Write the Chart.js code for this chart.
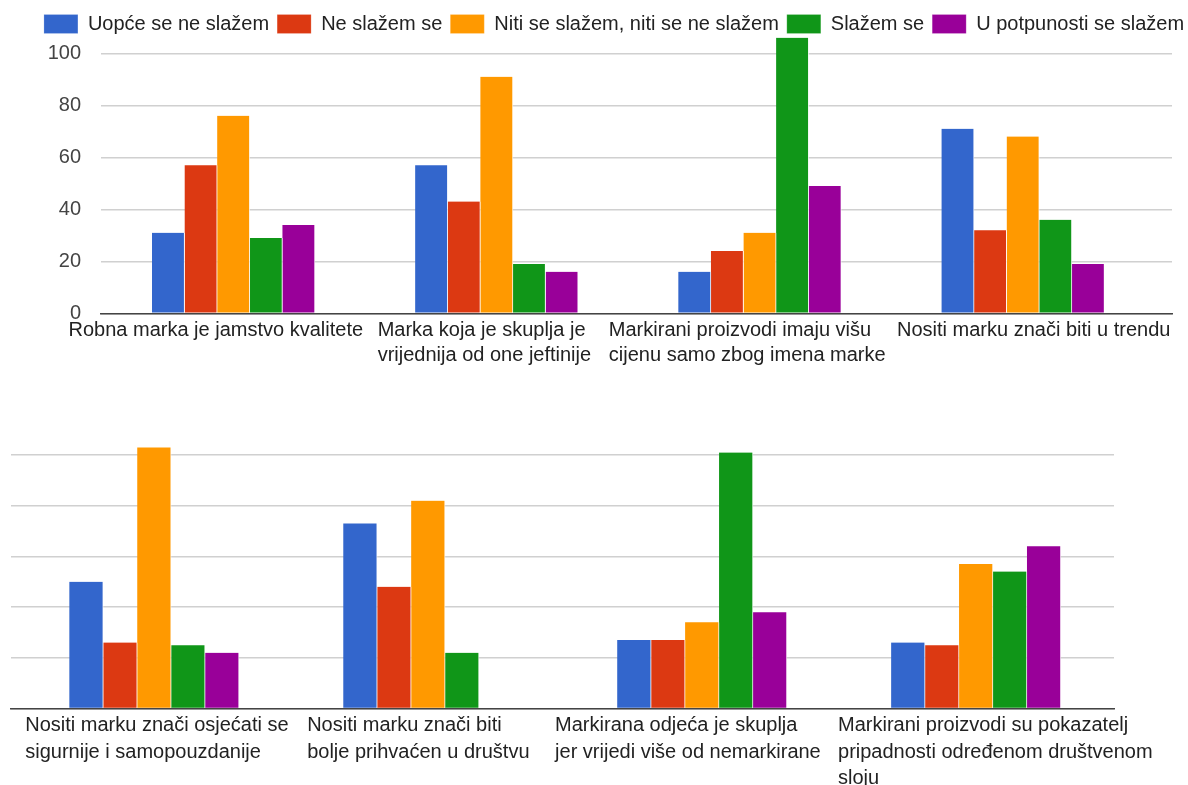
<!DOCTYPE html>
<html><head><meta charset="utf-8">
<script src="https://cdn.jsdelivr.net/npm/chart.js@4.4.1/dist/chart.umd.min.js"></script>
<style>
html,body{margin:0;padding:0;background:#fff;overflow:hidden;width:1188px;height:785px;}
#topChart{position:absolute;left:0;top:0;}
#botChart{position:absolute;left:0;top:390px;}
</style></head><body>
<canvas id="topChart" width="1240" height="390" style="width:1240px;height:390px"></canvas>
<canvas id="botChart" width="1188" height="395" style="width:1188px;height:395px"></canvas>
<script>
const seriesNames = ['Uopće se ne slažem', 'Ne slažem se', 'Niti se slažem, niti se ne slažem', 'Slažem se', 'U potpunosti se slažem'];
const seriesColors = ['#3366cc', '#dc3912', '#ff9900', '#109618', '#990099'];

const categoriesTop = [
  'Robna marka je jamstvo kvalitete',
  ['Marka koja je skuplja je', 'vrijednija od one jeftinije'],
  ['Markirani proizvodi imaju višu', 'cijenu samo zbog imena marke'],
  'Nositi marku znači biti u trendu'
];
const categoriesBottom = [
  ['Nositi marku znači osjećati se', 'sigurnije i samopouzdanije'],
  ['Nositi marku znači biti', 'bolje prihvaćen u društvu'],
  ['Markirana odjeća je skuplja', 'jer vrijedi više od nemarkirane'],
  ['Markirani proizvodi su pokazatelj', 'pripadnosti određenom društvenom', 'sloju']
];

const uopceTop   = [31, 57, 16, 71];
const neTop      = [57, 43, 24, 32];
const nitiTop    = [76, 91, 31, 68];
const slazemTop  = [29, 19, 106, 36];
const potpunoTop = [34, 16, 49, 19];

const uopceBottom   = [50, 73, 27, 26];
const neBottom      = [26, 48, 27, 25];
const nitiBottom    = [103, 82, 34, 57];
const slazemBottom  = [25, 22, 101, 54];
const potpunoBottom = [22, 0, 38, 64];

const yTickValues = [0, 20, 40, 60, 80, 100];

// layout: where each (left-aligned) category label starts, relative to its bar group centre, in px
const labelShiftTop = [-165, -119, -151, -126];
const labelShiftBottom = [-129, -121, -147, -138];

Chart.defaults.font.family = "'Liberation Sans', Arial, sans-serif";
Chart.defaults.animation = false;

function makeDatasets(seriesValues, thickness) {
  return seriesNames.map((name, i) => ({
    label: name,
    data: seriesValues[i].map((v, j) => ({ x: j, y: v })),
    backgroundColor: seriesColors[i],
    borderColor: 'rgba(255,255,255,0.75)',
    borderWidth: { left: 0, right: 1, top: 0, bottom: 0 },
    borderSkipped: false,
    barThickness: thickness,
    clip: false
  }));
}

function xAxis(labels, shifts, min, max, height, lineHeight, pad) {
  return {
    type: 'linear', min: min, max: max, offset: false,
    afterBuildTicks: s => {
      const ppu = s.width > 0 ? s.width / (s.max - s.min) : 1;
      s.ticks = labels.map((_, i) => ({ value: i + shifts[i] / ppu }));
    },
    afterFit: s => { s.height = height; },
    ticks: {
      autoSkip: false, maxRotation: 0, minRotation: 0, padding: pad, align: 'start',
      color: '#222', font: { size: 20, lineHeight: lineHeight },
      callback: (v, idx) => labels[idx]
    },
    grid: { display: false, drawTicks: false },
    border: { display: true, color: '#444', width: 1.5 }
  };
}

new Chart(document.getElementById('topChart'), {
  type: 'bar',
  data: { datasets: makeDatasets([uopceTop, neTop, nitiTop, slazemTop, potpunoTop], 32.6) },
  options: {
    responsive: false,
    layout: { padding: { top: 6, left: 30, right: 42, bottom: 0 } },
    plugins: {
      legend: {
        position: 'top', align: 'center',
        labels: { boxWidth: 34, boxHeight: 19, padding: 8, color: '#222', font: { size: 20 } }
      },
      tooltip: { enabled: false }
    },
    scales: {
      x: xAxis(categoriesTop, labelShiftTop, -0.5035, 3.5662, 76.7, 1.25, 5),
      y: {
        type: 'linear', min: 0, max: 103.64,
        afterBuildTicks: s => { s.ticks = yTickValues.map(v => ({ value: v })); },
        afterFit: s => { s.width = 71; },
        ticks: { padding: 20, color: '#444', font: { size: 20 } },
        grid: { color: '#d0d0d0', lineWidth: 1.5, drawTicks: false },
        border: { display: false }
      },
      yRight: {
        type: 'linear', position: 'right', display: true,
        afterFit: s => { s.width = 26; },
        ticks: { display: false }, grid: { display: false }, border: { display: false }
      }
    }
  }
});

new Chart(document.getElementById('botChart'), {
  type: 'bar',
  data: { datasets: makeDatasets([uopceBottom, neBottom, nitiBottom, slazemBottom, potpunoBottom], 33.95) },
  options: {
    responsive: false,
    layout: { padding: { top: 65, left: 11, right: 74, bottom: 0 } },
    plugins: { legend: { display: false }, tooltip: { enabled: false } },
    scales: {
      x: xAxis(categoriesBottom, labelShiftBottom, -0.5228, 3.5037, 76.5, 1.32, 4),
      y: {
        type: 'linear', min: 0, max: 100,
        afterBuildTicks: s => { s.ticks = yTickValues.map(v => ({ value: v })); },
        afterFit: s => { s.width = 0; },
        ticks: { display: false },
        grid: { color: '#d0d0d0', lineWidth: 1.5, drawTicks: false },
        border: { display: false }
      }
    }
  }
});
</script>
</body></html>
